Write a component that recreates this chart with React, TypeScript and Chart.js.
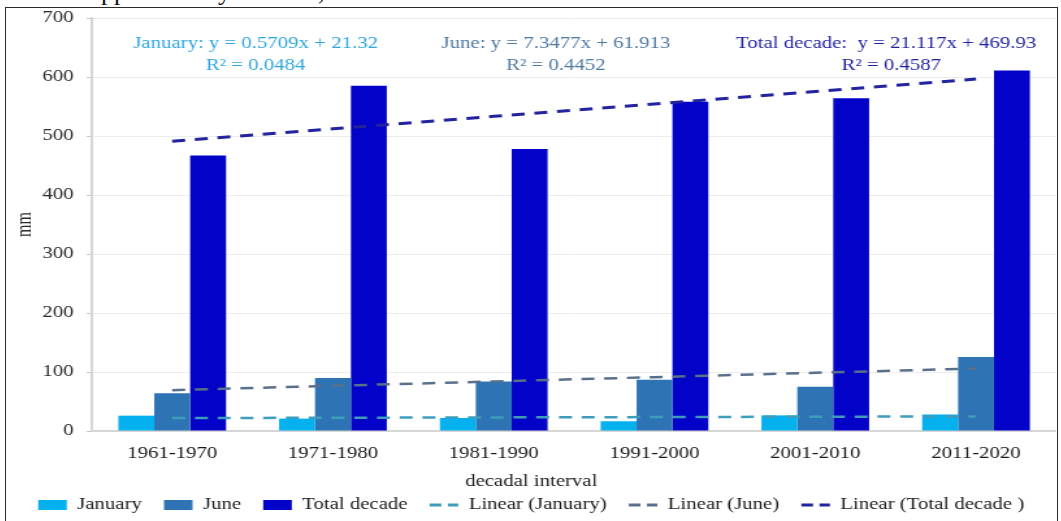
import React, { useEffect, useRef } from "react";
import { Chart, registerables } from "chart.js";

Chart.register(...registerables);

// Decadal precipitation (mm)
const decades = ["1961-1970", "1971-1980", "1981-1990", "1991-2000", "2001-2010", "2011-2020"];
const januaryMm = [26, 21, 22, 16.5, 26.5, 28];
const juneMm = [64, 90, 84, 87, 75, 125.5];
const totalDecadeMm = [467, 585, 478, 558, 564, 611];

// Linear trend fits: [slope, intercept], with R²
const januaryFit = [0.5709, 21.32];
const juneFit = [7.3477, 61.913];
const totalFit = [21.117, 469.93];
const januaryR2 = "0.0484";
const juneR2 = "0.4452";
const totalR2 = "0.4587";

const yTickMax = 700;
const yTickStep = 100;

const SERIF = '"Liberation Serif", "Times New Roman", serif';
const STRETCH = 1.3;
const CANVAS_W = 808;
const CANVAS_H = 515;

const trendSeries = (fit: number[]) => decades.map((_, i) => fit[0] * (i + 1) + fit[1]);

const notes = [
  { text: `January: y = ${januaryFit[0]}x + ${januaryFit[1]}`, r2: `R² = ${januaryR2}`, color: "#2ea6de", x: 192, r2x: 192 },
  { text: `June: y = ${juneFit[0]}x + ${juneFit[1]}`, r2: `R² = ${juneR2}`, color: "#4f79a3", x: 423, r2x: 423 },
  { text: `Total decade:  y = ${totalFit[0]}x + ${totalFit[1]}`, r2: `R² = ${totalR2}`, color: "#1f1f9e", x: 677, r2x: 681 },
];

const notesPlugin = {
  id: "trendNotes",
  afterDatasetsDraw(chart: any) {
    const ctx = chart.ctx;
    ctx.save();
    ctx.font = `16px ${SERIF}`;
    ctx.textAlign = "center";
    ctx.textBaseline = "middle";
    for (const n of notes) {
      ctx.fillStyle = n.color;
      ctx.fillText(n.text, n.x, 36);
      ctx.fillText(n.r2, n.r2x, 58);
    }
    ctx.fillStyle = "#1a1a1a";
    ctx.fillText("decadal interval", chart.width / 2, chart.chartArea.bottom + 51);
    ctx.restore();
  },
};

export default function App() {
  const canvasRef = useRef<HTMLCanvasElement>(null);

  useEffect(() => {
    const lineStyle = (color: string, width: number) => ({
      type: "line" as const,
      borderColor: color,
      backgroundColor: color,
      borderWidth: width,
      borderDash: [10, 7.5],
      borderCapStyle: "butt" as const,
      pointRadius: 0,
      fill: false,
      tension: 0,
      order: 0,
    });

    const chart = new Chart(canvasRef.current!, {
      type: "bar",
      data: {
        labels: decades,
        datasets: [
          { type: "bar", label: "January", data: januaryMm, backgroundColor: "#05b0ef", order: 1 },
          { type: "bar", label: "June", data: juneMm, backgroundColor: "#2e74b5", order: 1 },
          { type: "bar", label: "Total decade", data: totalDecadeMm, backgroundColor: "#0202c8", order: 1 },
          { label: "Linear (January)", data: trendSeries(januaryFit), ...lineStyle("#3f9cba", 2.5) },
          { label: "Linear (June)", data: trendSeries(juneFit), ...lineStyle("#58708a", 2.5) },
          { label: "Linear (Total decade )", data: trendSeries(totalFit), ...lineStyle("#23239e", 3) },
        ] as any,
      },
      options: {
        animation: false,
        responsive: false,
        devicePixelRatio: 1,
        layout: { padding: { top: 0, left: 0, right: 0, bottom: 0 } },
        datasets: { bar: { categoryPercentage: 0.67, barPercentage: 1 } },
        plugins: {
          tooltip: { enabled: false },
          legend: {
            position: "bottom",
            labels: {
              usePointStyle: true,
              pointStyleWidth: 22,
              boxHeight: 10,
              padding: 17,
              color: "#1a1a1a",
              font: { family: SERIF, size: 16 },
              generateLabels: (c: any) =>
                c.data.datasets.map((ds: any, i: number) => {
                  const isLine = ds.type === "line";
                  return {
                    text: ds.label,
                    fillStyle: isLine ? ds.borderColor : ds.backgroundColor,
                    strokeStyle: isLine ? ds.borderColor : ds.backgroundColor,
                    lineWidth: isLine ? 3 : 0,
                    lineDash: isLine ? [9, 5] : [],
                    pointStyle: isLine ? "line" : "rect",
                    hidden: false,
                    datasetIndex: i,
                    fontColor: "#1a1a1a",
                  };
                }),
            },
          },
        },
        scales: {
          x: {
            grid: { display: false, drawTicks: false },
            border: { color: "#d6d6d6", width: 2 },
            ticks: { padding: 13.4, color: "#1a1a1a", font: { family: SERIF, size: 16 } },
            afterFit: (s: any) => {
              s.height = 49;
            },
          },
          y: {
            min: 0,
            max: yTickMax,
            ticks: { stepSize: yTickStep, padding: 10, color: "#2a2a2a", font: { family: SERIF, size: 16 } },
            grid: { color: "#ededed", lineWidth: 1, tickLength: 4, tickColor: "#c4c4c4" },
            border: { color: "#d6d6d6", width: 2 },
            title: {
              display: true,
              text: "mm",
              color: "#2a2a2a",
              font: { family: SERIF, size: 16 },
              padding: { top: 5, bottom: 0 },
            },
            afterFit: (s: any) => {
              s.width = 66;
              s.paddingTop = 10;
            },
          },
        },
      } as any,
      plugins: [notesPlugin],
    });
    return () => chart.destroy();
  }, []);

  return (
    <div
      style={{
        position: "fixed",
        left: 0,
        top: 0,
        width: 1061,
        height: 521,
        overflow: "hidden",
        background: "#fff",
      }}
    >
      <div
        style={{
          position: "absolute",
          left: 0,
          top: 0,
          width: 1061,
          height: 7,
          overflow: "hidden",
          fontFamily: SERIF,
          fontSize: 26,
          lineHeight: "26px",
          color: "#111",
        }}
      >
        <span style={{ position: "absolute", left: 101, top: -21 }}>pp</span>
        <span style={{ position: "absolute", left: 218, top: -21 }}>y</span>
        <span style={{ position: "absolute", left: 318, top: -21 }}>,</span>
      </div>
      <div
        style={{
          position: "absolute",
          left: 5,
          top: 7,
          width: 1051,
          height: 530,
          border: "1px solid #2a2a2a",
        }}
      />
      <div
        style={{
          position: "absolute",
          left: 6,
          top: 8,
          width: CANVAS_W,
          height: CANVAS_H,
          transform: `scaleX(${STRETCH})`,
          transformOrigin: "0 0",
        }}
      >
        <canvas ref={canvasRef} width={CANVAS_W} height={CANVAS_H} style={{ display: "block" }} />
      </div>
    </div>
  );
}
